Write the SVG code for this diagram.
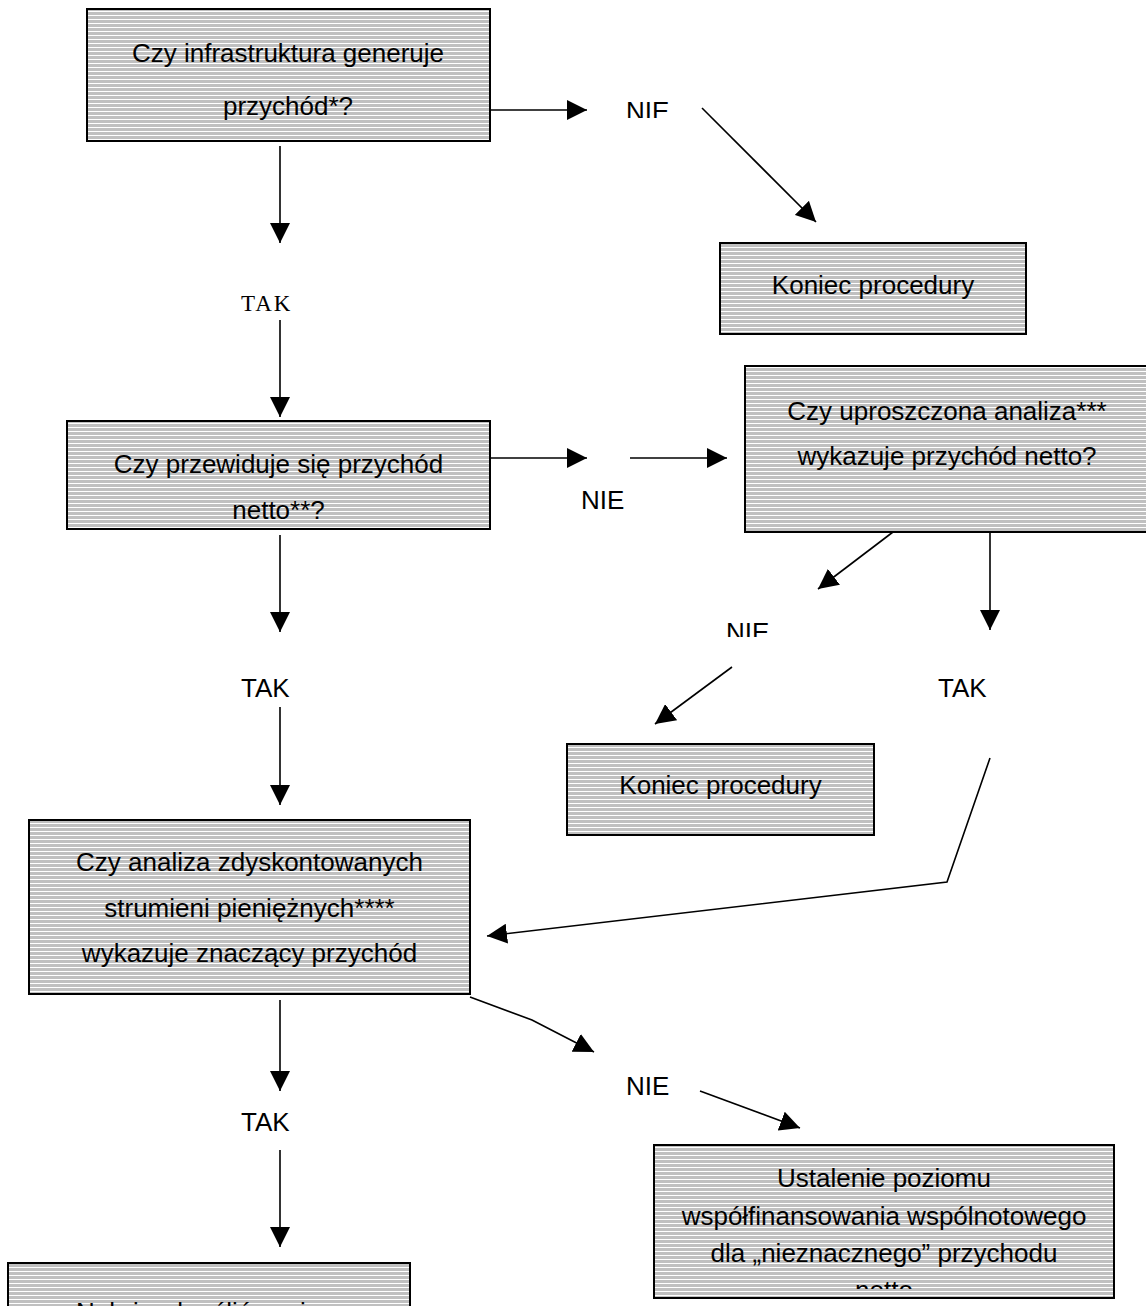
<svg xmlns="http://www.w3.org/2000/svg" width="1146" height="1306" viewBox="0 0 1146 1306">
<defs>
<pattern id="stripes" patternUnits="userSpaceOnUse" width="8" height="4">
<rect x="0" y="0" width="8" height="4" fill="#c0c0c0"/>
<rect x="0" y="3" width="8" height="1" fill="#ffffff"/>
</pattern>
<marker id="ah" markerUnits="userSpaceOnUse" markerWidth="20" markerHeight="20" refX="20" refY="10" orient="auto">
<path d="M0,0 L20,10 L0,20 Z" fill="#000"/>
</marker>
<clipPath id="c1"><rect x="600" y="90" width="100" height="28"/></clipPath>
<clipPath id="c2"><rect x="700" y="610" width="100" height="27"/></clipPath>
<clipPath id="c3"><rect x="655" y="1150" width="458" height="139"/></clipPath>
</defs>
<style>
.box{fill:url(#stripes);stroke:#000;stroke-width:2}
.t{font-family:"Liberation Sans",Arial,sans-serif;font-size:26px;fill:#000;text-anchor:middle}
.lab{font-family:"Liberation Sans",Arial,sans-serif;font-size:26px;fill:#000}
.ser{font-family:"Liberation Serif","Times New Roman",serif;font-size:23px;letter-spacing:2px;fill:#000}
.c{fill:none;stroke:#000;stroke-width:1.6;marker-end:url(#ah)}
</style>
<g id="n1">
<rect class="box" x="87" y="9" width="403" height="132"/>
<text class="t" x="288" y="62">Czy infrastruktura generuje</text>
<text class="t" x="288" y="115">przychód*?</text>
</g>
<g id="n2">
<rect class="box" x="720" y="243" width="306" height="91"/>
<text class="t" x="873" y="294">Koniec procedury</text>
</g>
<g id="n3">
<rect class="box" x="67" y="421" width="423" height="108"/>
<text class="t" x="278.5" y="473">Czy przewiduje się przychód</text>
<text class="t" x="278.5" y="519">netto**?</text>
</g>
<g id="n4">
<rect class="box" x="745" y="366" width="404" height="166"/>
<text class="t" x="947" y="420">Czy uproszczona analiza***</text>
<text class="t" x="947" y="465">wykazuje przychód netto?</text>
</g>
<g id="n5">
<rect class="box" x="567" y="744" width="307" height="91"/>
<text class="t" x="720.5" y="794">Koniec procedury</text>
</g>
<g id="n6">
<rect class="box" x="29" y="820" width="441" height="174"/>
<text class="t" x="249.5" y="871">Czy analiza zdyskontowanych</text>
<text class="t" x="249.5" y="917">strumieni pieniężnych****</text>
<text class="t" x="249.5" y="962">wykazuje znaczący przychód</text>
</g>
<g id="n7">
<rect class="box" x="654" y="1145" width="460" height="153"/>
<text class="t" x="884" y="1187">Ustalenie poziomu</text>
<text class="t" x="884" y="1225">współfinansowania wspólnotowego</text>
<text class="t" x="884" y="1262">dla „nieznacznego” przychodu</text>
<text class="t" x="884" y="1299" clip-path="url(#c3)">netto</text>
</g>
<g id="n8">
<rect class="box" x="8" y="1263" width="402" height="80"/>
<text class="t" x="209" y="1321">Należy określić poziom</text>
</g>
<g id="labels">
<text class="lab" x="626" y="120" clip-path="url(#c1)">NIE</text>
<text class="ser" x="241" y="311">TAK</text>
<text class="lab" x="581" y="509">NIE</text>
<text class="lab" x="726" y="641" clip-path="url(#c2)">NIE</text>
<text class="lab" x="241" y="697">TAK</text>
<text class="lab" x="938" y="697">TAK</text>
<text class="lab" x="626" y="1095">NIE</text>
<text class="lab" x="241" y="1131">TAK</text>
</g>
<g id="connectors">
<line class="c" x1="490" y1="110" x2="587" y2="110"/>
<line class="c" x1="702" y1="108" x2="816" y2="222"/>
<line class="c" x1="280" y1="146" x2="280" y2="243"/>
<line class="c" x1="280" y1="320" x2="280" y2="417"/>
<line class="c" x1="490" y1="458" x2="587" y2="458"/>
<line class="c" x1="630" y1="458" x2="727" y2="458"/>
<line class="c" x1="280" y1="535" x2="280" y2="632"/>
<line class="c" x1="280" y1="707" x2="280" y2="805"/>
<line class="c" x1="893" y1="532" x2="818" y2="589"/>
<line class="c" x1="990" y1="532" x2="990" y2="630"/>
<line class="c" x1="732" y1="667" x2="655" y2="724"/>
<polyline class="c" points="990,758 947,882 487,936"/>
<line class="c" x1="280" y1="1000" x2="280" y2="1091"/>
<line class="c" x1="280" y1="1150" x2="280" y2="1247"/>
<polyline class="c" points="470,997 532,1020 594,1052"/>
<line class="c" x1="700" y1="1091" x2="800" y2="1128"/>
</g>
</svg>
